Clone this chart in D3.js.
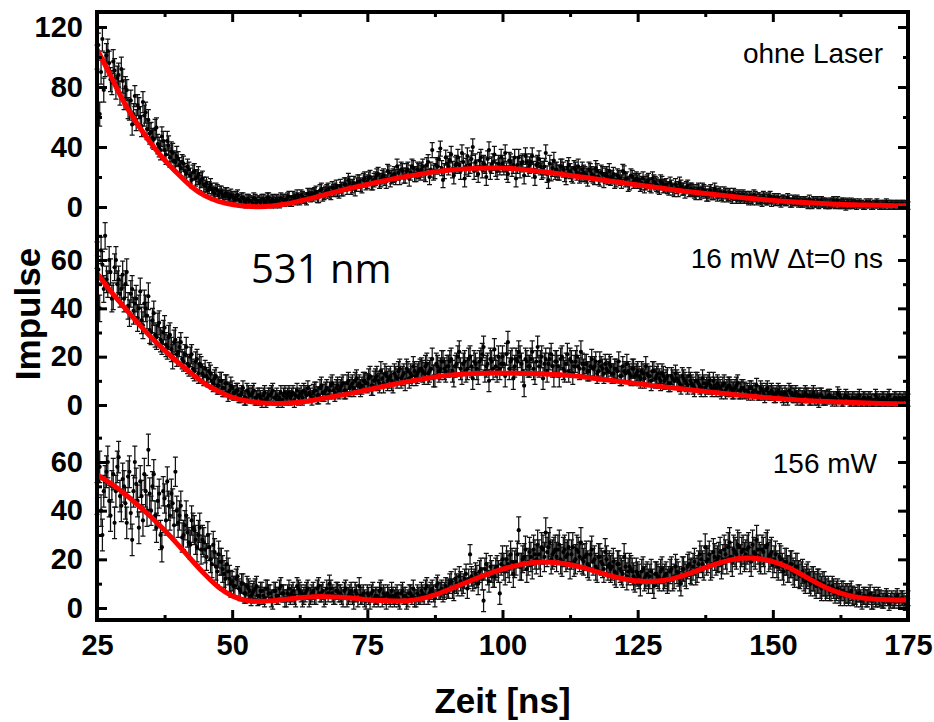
<!DOCTYPE html>
<html lang="de">
<head>
<meta charset="utf-8">
<title>Impulse vs Zeit - 531 nm</title>
<script src="https://d3js.org/d3.v7.min.js"></script>
<style>
body{margin:0;background:#fff;}
svg{display:block;}
.tick text{font-family:"Liberation Sans",Arial,sans-serif;font-weight:bold;font-size:29px;fill:#000;}
.tick line{stroke:#000;stroke-width:3px;}
</style>
</head>
<body>
<script>
// time channels: 0.25 ns apart; even channels start at 25 ns, odd channels at 25.25 ns
const t0 = 25, dt = 0.5, oddShift = 0.25;
// fit curve is read every 2.5 ns
const fitStep = 2.5;

const xTicks = [25, 50, 75, 100, 125, 150, 175];
const xMinor = [37.5, 62.5, 87.5, 112.5, 137.5, 162.5];

// panel 1: ohne Laser (even channels)
const counts1 = [
100,62,112,95,104,85,97,80,88,92,
72,78,65,55,74,68,60,70,63,58,
50,45,53,40,47,38,44,33,36,30,
32,26,29,22,25,18,24,20,16,19,
14,11,15,10,12,8,10,7,9,6,
7,5,8,4,6,3,5,4,6,3,
4,5,3,6,4,5,3,4,6,5,
5,7,4,6,8,5,7,6,9,7,
8,10,7,12,9,11,10,13,12,11,
14,12,15,18,13,16,15,17,14,19,
17,20,16,19,22,18,21,17,23,20,
22,27,20,24,21,25,23,26,22,24,
25,23,28,20,38,24,27,39,18,33,
27,35,21,29,28,36,19,34,28,40,
30,22,33,29,20,38,28,35,24,27,
29,36,22,30,28,19,33,29,21,30,
28,34,20,29,27,25,36,18,23,31,
25,23,27,22,26,24,21,25,27,22,
23,21,25,22,20,24,19,22,21,20,
19,22,18,20,17,23,19,16,20,18,
17,15,19,16,18,14,17,15,13,16,
14,13,16,12,15,11,14,12,13,11,
12,10,11,9,12,10,8,11,9,10,
9,8,10,7,9,6,8,7,6,8,
7,5,6,8,5,6,4,6,5,7,
5,4,6,3,5,4,5,3,4,5,
4,3,4,2,3,4,3,2,4,3,
3,2,3,2,4,2,3,1,2,3,
2,1,3,2,1,2,3,1,2,2,
1,2,3,1,2,1,2,1,2,1,
1];
// odd channels
const counts1odd = [
108,90,78,101,96,83,91,86,76,84,
80,66,71,62,58,66,54,61,52,49,
46,52,42,38,44,35,41,37,31,34,
28,30,24,27,21,23,19,22,18,15,
16,13,12,9,11,10,8,9,7,8,
6,7,5,6,4,5,4,3,5,4,
3,5,4,6,3,4,5,3,5,4,
6,4,7,5,6,8,6,5,8,9,
9,7,11,8,10,12,9,11,14,10,
12,15,13,16,14,12,17,15,18,16,
19,16,18,21,17,20,19,24,18,21,
20,23,25,21,24,19,27,22,25,23,
27,22,30,25,23,28,32,26,24,29,
31,25,28,33,24,30,27,26,32,24,
26,31,25,28,32,24,30,26,29,33,
27,24,31,26,33,28,25,30,34,26,
30,25,28,32,24,27,22,29,26,24,
23,27,25,20,28,22,26,23,21,25,
22,19,24,21,26,20,23,18,22,24,
20,17,21,19,24,18,15,21,17,19,
18,16,14,17,15,19,16,14,17,14,
15,12,14,11,13,16,12,10,14,12,
11,9,12,10,11,8,10,9,12,8,
10,7,9,8,7,9,6,8,7,6,
6,7,5,7,6,5,7,5,6,4,
6,5,4,5,4,6,3,5,4,3,
3,4,3,5,2,3,4,3,3,2,
2,3,4,3,2,3,2,3,2,2,
3,2,2,1,3,2,1,2,3,1,
2,1,2,2,1,2,1,2,1,2];
// error per 5 ns block
const err1 = [8,7,6.5,5,4,3.5,3.5,3.5,4,4.5,4.5,5,5,5.5,5.5,5.5,5.5,5,5,4.5,4.5,4,4,3.5,3.5,3,3,3,2.5,2.5,2.5];
const fit1 = [105,88,69,55,42,31,22,13,7,3.5,1.5,0.4,0,0.5,1.8,4,6,8.5,11,13,15,17,19,20.5,22,23.5,24.5,25.3,25.8,26,
26,25.5,24.5,23.5,22.3,21,19.8,18.5,17.2,16,14.7,13.5,12.3,11,10,9,8,7,6,5.2,4.4,3.7,3.1,2.6,2.1,1.8,1.5,1.3,1.1,0.9,0.8];

// panel 2: 16 mW, dt = 0 ns
const counts2 = [
62,40,58,70,50,55,45,60,52,48,
44,55,38,48,42,36,47,33,40,45,
30,38,28,34,26,32,24,29,20,27,
22,26,18,24,16,21,14,19,17,13,
15,11,13,9,12,8,10,7,9,6,
7,5,6,4,7,3,5,4,6,3,
4,2,5,3,4,6,3,2,5,4,
3,5,4,2,6,4,3,5,7,4,
5,6,4,8,5,7,6,9,5,8,
7,9,6,10,8,7,11,9,8,10,
9,12,8,11,10,14,9,12,11,10,
13,11,15,12,10,14,13,16,12,14,
15,13,17,14,19,12,16,15,18,14,
16,19,12,17,22,13,18,15,20,11,
17,13,19,24,16,10,18,23,14,15,
20,12,26,18,11,19,22,17,8,18,
16,22,13,24,18,11,19,17,21,12,
18,12,20,14,21,19,13,18,16,22,
15,17,14,19,16,13,18,15,17,14,
16,13,15,18,12,14,17,13,15,12,
14,11,13,16,12,10,14,12,11,13,
10,12,9,11,13,10,8,11,9,12,
9,7,10,8,11,7,9,8,10,7,
8,6,9,7,8,6,7,9,6,7,
6,5,7,6,8,5,6,4,7,5,
5,4,6,5,3,4,6,5,4,3,
4,3,5,4,3,5,4,2,4,3,
3,4,2,3,5,3,2,4,3,2,
3,2,4,2,3,2,3,2,4,2,
2,3,2,4,2,3,2,3,2,3,
2];
const counts2odd = [
56,64,48,52,60,44,57,50,46,54,
50,41,46,39,44,40,35,42,37,31,
35,29,33,27,30,25,28,23,26,21,
24,19,21,17,20,15,18,13,16,12,
12,14,10,11,8,10,7,9,5,8,
5,6,4,5,3,6,4,5,3,4,
3,4,2,4,5,3,4,3,2,5,
4,3,5,4,3,5,6,4,5,3,
6,4,7,5,6,4,8,6,7,6,
8,6,9,7,9,10,8,7,10,9,
11,8,10,12,9,11,13,10,12,9,
12,14,11,13,15,11,12,14,13,15,
14,16,13,15,12,17,14,18,15,16,
18,14,16,20,15,17,14,19,16,18,
15,18,21,14,17,19,15,16,20,17,
17,21,15,19,16,18,20,14,19,16,
19,15,18,16,20,17,14,19,16,18,
16,19,15,17,14,18,16,20,15,17,
17,14,16,15,18,14,16,13,15,17,
13,15,14,12,16,13,14,12,15,13,
12,14,11,13,12,14,11,13,10,12,
11,9,12,10,11,9,12,10,8,10,
8,10,9,7,9,8,10,7,8,9,
7,8,6,8,7,6,8,6,7,6,
6,7,5,6,5,7,5,6,5,6,
4,5,5,4,5,3,5,4,5,4,
3,4,4,3,4,3,3,4,3,3,
4,3,3,2,4,2,3,3,2,3,
2,3,2,3,2,3,2,2,3,2,
3,2,3,2,2,3,2,2,3,2];
const err2 = [5.5,5.5,5,4,3.5,3,3,3,3.5,3.5,4,4,4.5,4.5,4.5,4.5,4.5,4.5,4,4,4,3.5,3.5,3.5,3,3,3,2.5,2.5,2.5,2.5];
const fit2 = [54.5,47,40.5,34,28,22.5,17.5,13,8.5,5.5,3,1.7,0.9,0.6,0.7,1,2,3,4,5,6.2,7.5,8.6,9.7,10.7,11.6,12.3,12.8,13.1,13.2,
13.2,13.1,13,12.9,12.6,12.2,11.6,10.9,10.2,9.5,8.8,8.1,7.4,6.8,6.2,5.6,5,4.4,3.8,3.3,2.8,2.4,2,1.7,1.4,1.2,1,0.8,0.6,0.5,0.4];

// panel 3: 156 mW
const counts3 = [
45,58,30,52,60,38,55,48,62,42,
50,35,56,28,60,44,52,36,48,65,
40,55,33,47,25,45,52,38,43,56,
35,42,30,38,27,36,32,25,33,28,
24,30,20,26,17,22,19,14,18,12,
11,9,13,7,10,6,8,5,7,9,
5,7,4,8,6,3,7,5,9,6,
4,8,6,5,9,7,4,6,8,5,
7,5,9,6,4,8,10,6,5,7,
6,4,8,5,7,3,6,9,5,4,
6,3,7,5,4,8,6,3,5,7,
4,6,3,7,5,4,6,8,4,5,
7,5,9,6,8,4,10,7,6,9,
8,11,7,10,13,9,12,8,22,11,
14,10,16,3,18,11,15,13,17,6,
20,15,18,22,14,19,32,17,21,16,
23,18,22,26,19,24,31,25,20,23,
21,26,19,24,22,18,25,20,23,27,
19,22,17,24,20,16,21,18,23,17,
16,19,14,18,15,21,13,17,15,12,
14,10,16,13,11,15,9,14,12,16,
13,11,15,12,17,14,10,16,13,18,
15,19,16,22,18,25,20,17,23,19,
21,18,24,20,27,19,23,26,20,24,
22,25,19,23,28,21,24,20,26,22,
18,22,17,20,15,19,16,18,14,17,
13,15,11,14,10,12,9,11,8,10,
8,7,9,6,8,5,7,6,5,7,
5,4,6,3,5,4,6,3,4,5,
4,3,5,2,4,3,5,3,4,2,
4];
const counts3odd = [
52,40,48,56,44,50,35,58,46,53,
43,54,39,48,51,33,46,55,40,47,
50,38,44,30,48,36,42,47,34,40,
38,29,34,31,26,33,28,30,24,27,
21,25,18,23,15,19,16,12,15,10,
9,12,8,10,6,9,7,6,8,5,
7,5,8,6,4,7,5,8,6,4,
6,5,7,4,8,6,5,7,4,6,
5,8,6,7,5,6,8,5,7,6,
5,7,4,6,5,7,4,5,6,3,
5,6,4,5,7,4,5,6,4,5,
5,4,6,5,3,6,5,4,6,5,
6,8,5,7,6,9,7,8,7,8,
10,8,12,9,11,10,14,12,13,12,
13,15,12,16,14,17,13,16,15,18,
17,20,16,19,18,22,17,20,24,19,
21,24,20,22,25,21,23,27,22,24,
24,20,23,21,25,22,19,24,21,20,
21,18,22,19,17,21,19,16,20,18,
17,15,18,16,14,17,15,16,13,15,
13,15,12,14,13,11,14,13,15,12,
14,12,16,13,15,12,16,14,17,15,
17,15,18,20,17,19,22,18,21,20,
23,20,22,25,21,24,22,25,23,21,
24,21,26,22,24,20,23,25,21,23,
20,18,21,17,19,16,18,15,17,14,
14,12,13,11,12,10,11,9,10,8,
9,7,8,7,6,7,5,6,6,5,
5,6,4,5,4,5,3,5,4,4,
3,4,4,3,3,4,3,4,3,3];
const err3 = [6.5,6.5,6,6,5.5,4,3.5,3.5,3.5,3.5,3.5,3.5,3.5,4,4.5,5.5,6,6,5.5,5.5,5,5,5.5,6,6,5.5,5,4,3.5,3,3];
const fit3 = [54.7,51.4,47.3,42.4,37.5,32,26,19.7,13.6,8.2,4.7,2.9,2.6,3,3.6,4.2,4.7,4.7,4.4,4,3.4,3,2.8,2.9,3.7,5.3,7.5,9.8,12,14.2,
16,17.5,18.6,19,18.7,17.8,16.6,14.8,13.2,11.8,11,10.8,11.2,12.6,14.5,16.6,18.5,20,20.7,20.4,19.2,17.2,14.2,11,8,6,4.5,3.8,3.4,3.3,3.3];

const W = 934, H = 722;
const mLeft = 97, mRight = 908, mTop = 12, mBottom = 620;

const svg = d3.select("body").append("svg").attr("width", W).attr("height", H);

const x = d3.scaleLinear().domain([25, 175]).range([mLeft, mRight]);

const panels = [
  {counts: counts1, odd: counts1odd, err: err1, fit: fit1, label: "ohne Laser", lx: 883, ly: 63,
   y: d3.scaleLinear().domain([0, 120]).range([207, 27]),
   major: [0, 40, 80, 120], minor: [20, 60, 100]},
  {counts: counts2, odd: counts2odd, err: err2, fit: fit2, label: "16 mW \u0394t=0 ns", lx: 883, ly: 268,
   y: d3.scaleLinear().domain([0, 60]).range([405, 260]),
   major: [0, 20, 40, 60], minor: [10, 30, 50, 70]},
  {counts: counts3, odd: counts3odd, err: err3, fit: fit3, label: "156 mW", lx: 877, ly: 473,
   y: d3.scaleLinear().domain([0, 60]).range([608, 462]),
   major: [0, 20, 40, 60], minor: [10, 30, 50, 70]}
];

panels.forEach(p => {
  const even = p.counts.map((v, i) => ({t: t0 + i * dt, v: v, e: p.err[Math.floor(i / 10)]}));
  const odd = p.odd.map((v, i) => ({t: t0 + oddShift + i * dt, v: v, e: p.err[Math.floor(i / 10)]}));
  const pts = even.concat(odd);

  // error bars with caps
  svg.append("g")
    .selectAll("path")
    .data(pts)
    .join("path")
    .attr("d", d => {
      const cx = x(d.t), y1 = p.y(d.v + d.e), y2 = p.y(d.v - d.e);
      return `M${cx},${y1}V${y2}M${cx - 2.5},${y1}h5M${cx - 2.5},${y2}h5`;
    })
    .attr("fill", "none")
    .attr("stroke", "#111")
    .attr("stroke-width", 1.25);

  svg.append("g")
    .selectAll("circle")
    .data(pts)
    .join("circle")
    .attr("cx", d => x(d.t))
    .attr("cy", d => p.y(d.v))
    .attr("r", 2.1)
    .attr("fill", "#000");

  const line = d3.line()
    .x((d, i) => x(t0 + i * fitStep))
    .y(d => p.y(d))
    .curve(d3.curveBasis);

  svg.append("path")
    .datum(p.fit)
    .attr("d", line)
    .attr("fill", "none")
    .attr("stroke", "#ff0000")
    .attr("stroke-width", 5);

  // left and right axes of this layer, ticks point inwards
  const gl = svg.append("g").attr("transform", `translate(${mLeft},0)`)
    .call(d3.axisLeft(p.y).tickValues(p.major).tickSizeInner(-10).tickSizeOuter(0).tickPadding(14).tickFormat(d3.format("d")));
  gl.select(".domain").remove();
  const glm = svg.append("g").attr("transform", `translate(${mLeft},0)`)
    .call(d3.axisLeft(p.y).tickValues(p.minor).tickSizeInner(-5).tickSizeOuter(0).tickFormat(""));
  glm.select(".domain").remove();
  const gr = svg.append("g").attr("transform", `translate(${mRight},0)`)
    .call(d3.axisRight(p.y).tickValues(p.major).tickSizeInner(-10).tickSizeOuter(0).tickFormat(""));
  gr.select(".domain").remove();
  const grm = svg.append("g").attr("transform", `translate(${mRight},0)`)
    .call(d3.axisRight(p.y).tickValues(p.minor).tickSizeInner(-5).tickSizeOuter(0).tickFormat(""));
  grm.select(".domain").remove();

  svg.append("text")
    .attr("x", p.lx)
    .attr("y", p.ly)
    .attr("text-anchor", "end")
    .style("font-family", "'Liberation Sans', Arial, sans-serif")
    .style("font-size", "28px")
    .text(p.label);
});

// x axes, bottom with labels, top mirrored
const gb = svg.append("g").attr("transform", `translate(0,${mBottom})`)
  .call(d3.axisBottom(x).tickValues(xTicks).tickSizeInner(-10).tickSizeOuter(0).tickPadding(14).tickFormat(d3.format("d")));
gb.select(".domain").remove();
const gbm = svg.append("g").attr("transform", `translate(0,${mBottom})`)
  .call(d3.axisBottom(x).tickValues(xMinor).tickSizeInner(-5).tickSizeOuter(0).tickFormat(""));
gbm.select(".domain").remove();
const gt = svg.append("g").attr("transform", `translate(0,${mTop})`)
  .call(d3.axisTop(x).tickValues(xTicks).tickSizeInner(-10).tickSizeOuter(0).tickFormat(""));
gt.select(".domain").remove();
const gtm = svg.append("g").attr("transform", `translate(0,${mTop})`)
  .call(d3.axisTop(x).tickValues(xMinor).tickSizeInner(-5).tickSizeOuter(0).tickFormat(""));
gtm.select(".domain").remove();

// frame
svg.append("rect")
  .attr("x", mLeft).attr("y", mTop)
  .attr("width", mRight - mLeft).attr("height", mBottom - mTop)
  .attr("fill", "none")
  .attr("stroke", "#000")
  .attr("stroke-width", 4);

svg.append("text")
  .attr("x", (mLeft + mRight) / 2)
  .attr("y", 713)
  .attr("text-anchor", "middle")
  .style("font-family", "'Liberation Sans', Arial, sans-serif")
  .style("font-weight", "bold")
  .style("font-size", "35px")
  .text("Zeit [ns]");

svg.append("text")
  .attr("transform", "translate(40,314) rotate(-90)")
  .attr("text-anchor", "middle")
  .style("font-family", "'Liberation Sans', Arial, sans-serif")
  .style("font-weight", "bold")
  .style("font-size", "35px")
  .text("Impulse");

svg.append("text")
  .attr("x", 251)
  .attr("y", 283)
  .style("font-family", "'Open Sans', sans-serif")
  .style("font-size", "40px")
  .text("531 nm");
</script>
</body>
</html>
